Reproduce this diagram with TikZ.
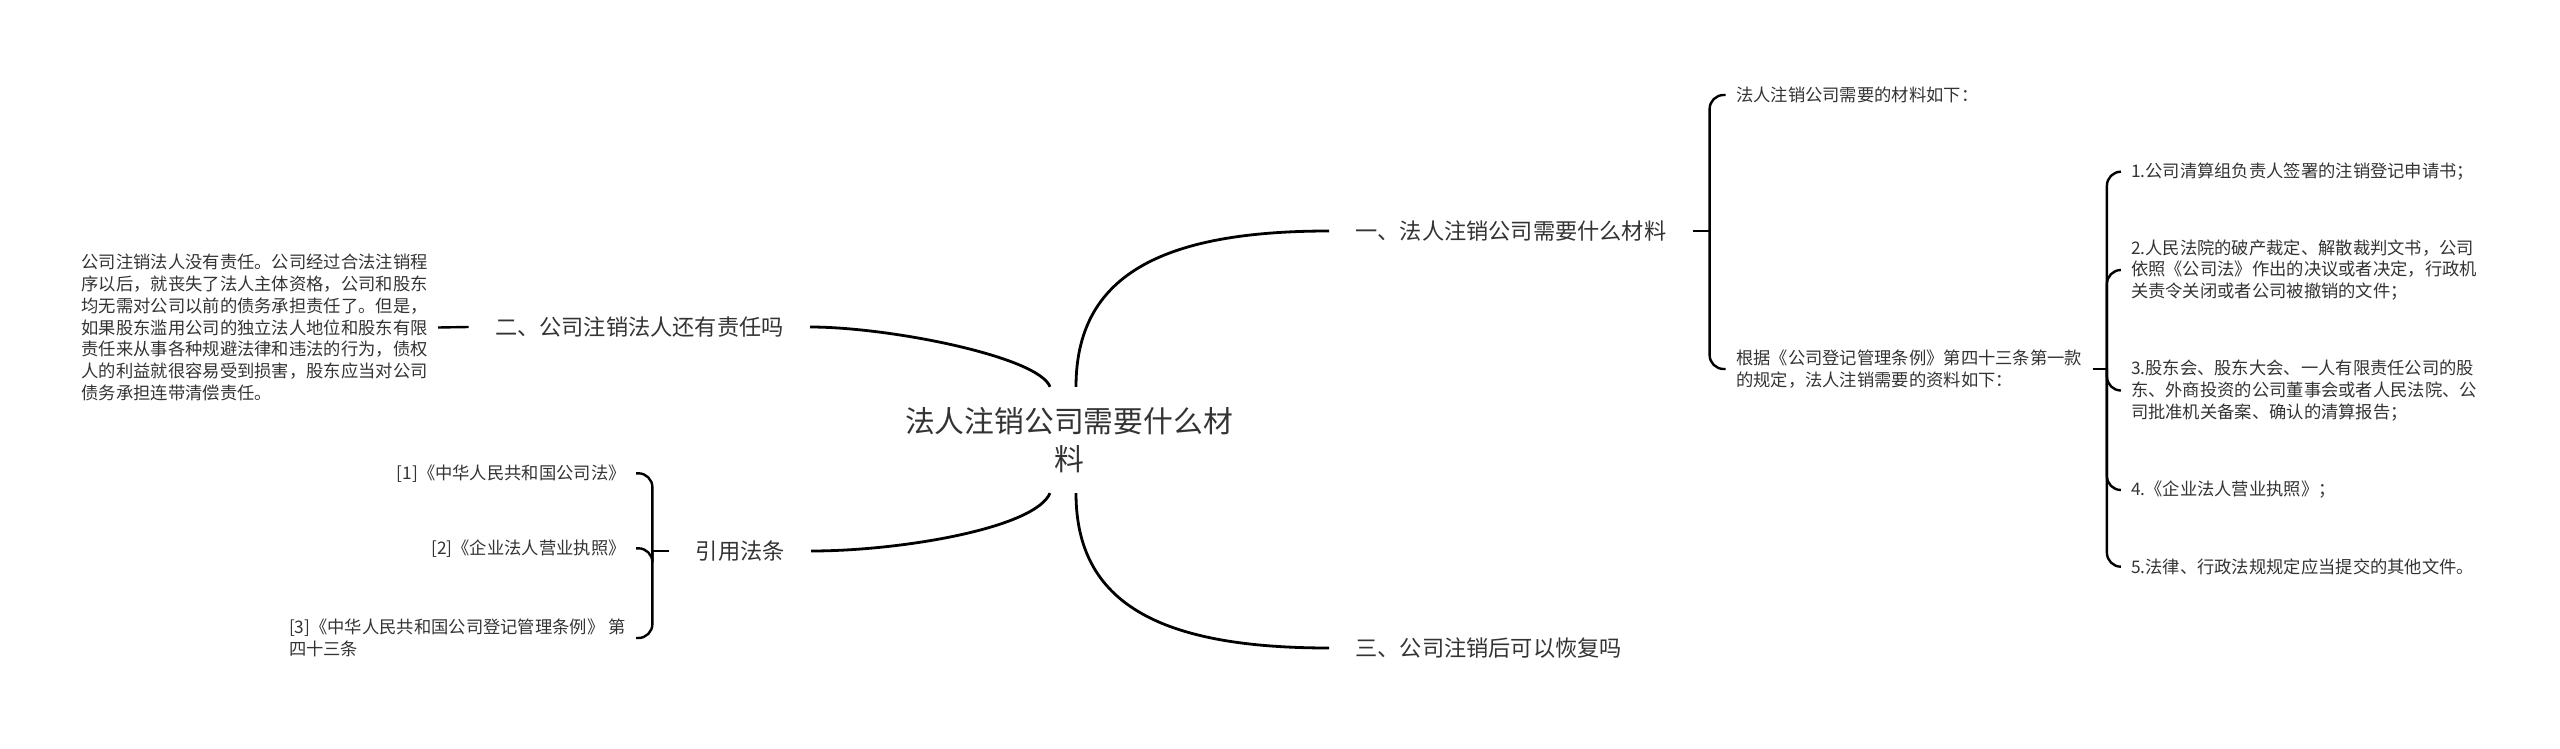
\documentclass[tikz,border=0pt]{standalone}
\usepackage{fontspec}
\setmainfont{Noto Sans CJK SC}
\usepackage{tikz}

\definecolor{txtgray}{HTML}{333333}

\tikzset{
    topic/.style={font=\fontsize{14.9pt}{19pt}\selectfont, align=center, inner xsep=0pt, inner ysep=10pt, text=txtgray},
    branch/.style={font=\fontsize{11.1pt}{14pt}\selectfont, inner xsep=13pt, inner ysep=2pt, text=txtgray},
    leaf/.style={font=\fontsize{8.65pt}{10.85pt}\selectfont, align=left, inner xsep=5pt, inner ysep=1pt, text=txtgray},
    link/.style={line width=1.4pt},
    brace/.style={line width=1.2pt, rounded corners=7pt},
}

\begin{document}
\begin{tikzpicture}[x=0.5pt, y=-0.5pt]
    % Page size
    \useasboundingbox (0,0) rectangle (2560,749);

    % Central topic
    \node[topic] (root) at (1069,440) {法人注销公司需要什么材\\料};

    % Main branches
    \node[branch, anchor=west] (b1) at (1329,231) {一、法人注销公司需要什么材料};
    \node[branch, anchor=east] (b2) at (810,327) {二、公司注销法人还有责任吗};
    \node[branch, anchor=east] (refs) at (811,551) {引用法条};
    \node[branch, anchor=west] (b3) at (1329,648) {三、公司注销后可以恢复吗};

    % Curves from the centre
    \draw[link] ([xshift=3.5pt]root.north) .. controls +(0,-110) and +(-170,0) .. (b1.west);
    \draw[link] ([xshift=-9.5pt]root.north) .. controls +(-11,-30) and +(80,0) .. (b2.east);
    \draw[link] ([xshift=-9.5pt]root.south) .. controls +(-15,35) and +(90,0) .. (refs.east);
    \draw[link] ([xshift=3.5pt]root.south) .. controls +(0,110) and +(-170,0) .. (b3.west);

    % Branch 1 details
    \node[leaf, anchor=west] (m1) at (1725.7,95) {法人注销公司需要的材料如下：};
    \node[leaf, anchor=west] (m2) at (1725.7,369) {根据《公司登记管理条例》第四十三条第一款\\的规定，法人注销需要的资料如下：};
    \coordinate (jb1) at ([xshift=8.5pt]b1.east);
    \draw[link] (b1.east) -- (jb1);
    \foreach \n in {m1,m2}
        \draw[brace] (jb1) |- (\n.west);

    % Materials list
    \node[leaf, anchor=west] (i1) at (2120.6,171.7) {1.公司清算组负责人签署的注销登记申请书；};
    \node[leaf, anchor=west] (i2) at (2120.6,270) {2.人民法院的破产裁定、解散裁判文书，公司\\依照《公司法》作出的决议或者决定，行政机\\关责令关闭或者公司被撤销的文件；};
    \node[leaf, anchor=west] (i3) at (2120.6,390.5) {3.股东会、股东大会、一人有限责任公司的股\\东、外商投资的公司董事会或者人民法院、公\\司批准机关备案、确认的清算报告；};
    \node[leaf, anchor=west] (i4) at (2120.6,490) {4.《企业法人营业执照》；};
    \node[leaf, anchor=west] (i5) at (2120.6,566.7) {5.法律、行政法规规定应当提交的其他文件。};
    \coordinate (jm2) at ([xshift=7.2pt]m2.east);
    \draw[brace] (m2.east) -- (jm2);
    \foreach \n in {i1,i2,i3,i4,i5}
        \draw[brace] (jm2) |- (\n.west);

    % Branch 2 detail
    \node[leaf, anchor=east] (d2) at (438,327.5) {公司注销法人没有责任。公司经过合法注销程\\序以后，就丧失了法人主体资格，公司和股东\\均无需对公司以前的债务承担责任了。但是，\\如果股东滥用公司的独立法人地位和股东有限\\责任来从事各种规避法律和违法的行为，债权\\人的利益就很容易受到损害，股东应当对公司\\债务承担连带清偿责任。};
    \draw[brace] (d2.east) -- (b2.west);

    % Cited laws
    \node[leaf, anchor=east] (r1) at (636,473.3) {[1]《中华人民共和国公司法》};
    \node[leaf, anchor=east] (r2) at (636,548.3) {[2]《企业法人营业执照》};
    \node[leaf, anchor=east] (r3) at (636,638) {[3]《中华人民共和国公司登记管理条例》 第\\四十三条};
    \coordinate (jr) at ([xshift=-8.5pt]refs.west);
    \draw[link] (refs.west) -- (jr);
    \foreach \n in {r1,r2,r3}
        \draw[brace] (jr) |- (\n.east);

\end{tikzpicture}
\end{document}
